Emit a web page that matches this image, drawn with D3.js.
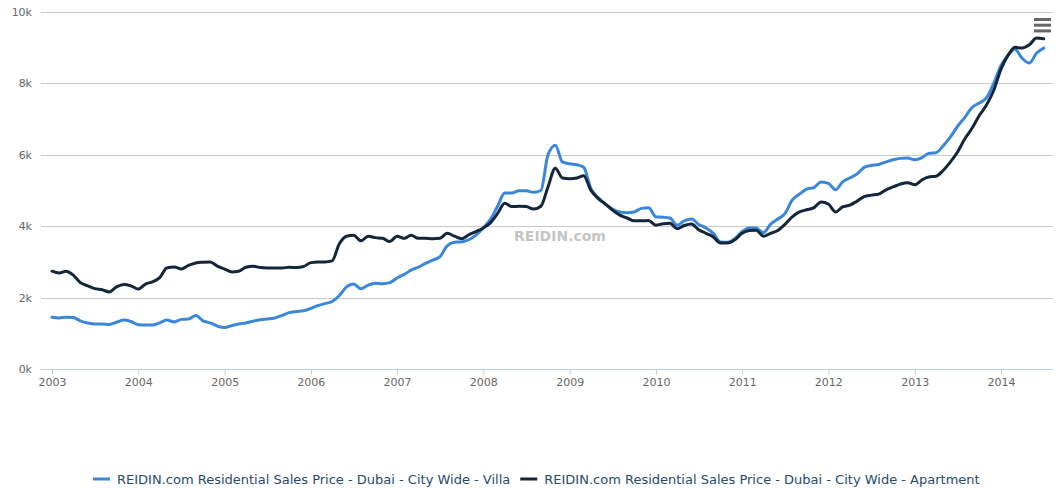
<!DOCTYPE html>
<html>
<head>
<meta charset="utf-8">
<script src="https://cdn.jsdelivr.net/npm/d3@7"></script>
<style>
    body { margin: 0; background: #ffffff; }
    #chart text { font-family: "DejaVu Sans", Verdana, sans-serif; }
</style>
</head>
<body>
<svg id="chart" width="1062" height="489"></svg>
<script>

// Series data (monthly, starting Jan 2003)
const startMonth = "2003-01";

const villaValues = [
    1450, 1430, 1450, 1440, 1350, 1290, 1260, 1260, 1250, 1310, 1370, 1330,
    1240, 1230, 1230, 1290, 1370, 1320, 1390, 1400, 1500, 1350, 1290, 1200,
    1160, 1220, 1260, 1290, 1340, 1380, 1400, 1430, 1500, 1580, 1610, 1630,
    1700, 1780, 1830, 1890, 2050, 2300, 2380, 2250, 2350, 2400, 2390, 2420,
    2550, 2650, 2770, 2850, 2960, 3050, 3140, 3450, 3550, 3560, 3620, 3750,
    3950, 4200, 4550, 4930, 4930, 4990, 4990, 4950, 5000, 6000, 6270, 5800,
    5750, 5720, 5650, 5050, 4800, 4620, 4480, 4400, 4380, 4400, 4500, 4520,
    4260, 4250, 4230, 4030, 4150, 4200, 4050, 3950, 3800, 3560, 3550, 3650,
    3850, 3950, 3950, 3820, 4050, 4200, 4350, 4730, 4900, 5040, 5080, 5240,
    5200, 5020, 5240, 5350, 5460, 5650, 5700, 5730, 5800, 5860, 5900, 5910,
    5860, 5920, 6040, 6060, 6250, 6500, 6800, 7050, 7330, 7450, 7600, 8000,
    8500, 8800, 8960, 8700, 8570, 8850, 8990
];

const apartmentValues = [
    2740, 2690, 2740, 2630, 2420, 2330, 2250, 2220, 2160, 2300, 2370, 2330,
    2240, 2380, 2440, 2560, 2830, 2860, 2800, 2900, 2970, 2990, 3000, 2880,
    2800, 2720, 2740, 2850, 2880, 2840, 2830, 2830, 2830, 2850, 2840, 2870,
    2980, 3000, 3000, 3030, 3500, 3720, 3750, 3590, 3720, 3680, 3660, 3570,
    3720, 3660, 3750, 3660, 3660, 3650, 3660, 3800, 3720, 3650, 3760, 3850,
    3950, 4100, 4350, 4640, 4550, 4560, 4550, 4480, 4560, 5100, 5620, 5350,
    5330, 5350, 5410, 5000, 4780, 4620, 4450, 4310, 4230, 4150, 4150, 4160,
    4030, 4070, 4080, 3930, 4020, 4060, 3900, 3800, 3700, 3530, 3530, 3620,
    3800, 3880, 3890, 3720, 3800, 3880, 4050, 4260, 4400, 4460, 4520, 4680,
    4620, 4400, 4540, 4590, 4700, 4830, 4870, 4900, 5020, 5100, 5180, 5220,
    5160, 5300, 5380, 5400, 5560, 5800, 6080, 6450, 6750, 7100, 7400, 7800,
    8400, 8800, 9010, 8990, 9080, 9270, 9250
];

const seriesNames = [
    "REIDIN.com Residential Sales Price - Dubai - City Wide - Villa",
    "REIDIN.com Residential Sales Price - Dubai - City Wide - Apartment"
];
const seriesColours = ["#3a86da", "#14263a"];

const yTicks = [0, 2000, 4000, 6000, 8000, 10000];
const yTickLabels = ["0k", "2k", "4k", "6k", "8k", "10k"];
const xTickYears = [2003, 2004, 2005, 2006, 2007, 2008, 2009, 2010, 2011, 2012, 2013, 2014];

const watermark = "REIDIN.com";

// Build dated points
const parseMonth = d3.timeParse("%Y-%m");
const start = parseMonth(startMonth);
const toPoints = (values) => values.map((v, i) => ({ date: d3.timeMonth.offset(start, i), value: v }));
const series = [toPoints(villaValues), toPoints(apartmentValues)];

// Plot layout
const plotLeft = 41,
      plotRight = 1053,
      plotTop = 12,
      plotBottom = 369;

const svg = d3.select("#chart");

// Scales
const x = d3.scaleTime()
    .domain([new Date(2003, 0, 1), new Date(2014, 0, 1)])
    .range([52, 1001]);
const y = d3.scaleLinear()
    .domain([0, 10000])
    .range([plotBottom, plotTop]);

// Grid lines
svg.append("g")
    .selectAll("line")
    .data(yTicks.slice(1))
    .enter()
    .append("line")
    .attr("x1", plotLeft)
    .attr("x2", plotRight)
    .attr("y1", (d) => Math.round(y(d)) + 0.5)
    .attr("y2", (d) => Math.round(y(d)) + 0.5)
    .attr("stroke", "#c8c8c8")
    .attr("stroke-width", 1);

// Y labels
svg.append("g")
    .selectAll("text")
    .data(yTicks)
    .enter()
    .append("text")
    .attr("x", 32)
    .attr("y", (d) => y(d) + 4)
    .attr("text-anchor", "end")
    .attr("font-size", 11)
    .attr("fill", "#666666")
    .text((d, i) => yTickLabels[i]);

// X axis
const xAxis = d3.axisBottom(x)
    .tickValues(xTickYears.map((yr) => new Date(yr, 0, 1)))
    .tickFormat(d3.timeFormat("%Y"))
    .tickSizeInner(6)
    .tickSizeOuter(0)
    .tickPadding(3);

const xAxisG = svg.append("g")
    .attr("transform", `translate(0,${plotBottom})`)
    .call(xAxis);
xAxisG.select(".domain").remove();
xAxisG.append("line")
    .attr("x1", plotLeft)
    .attr("x2", plotRight)
    .attr("y1", 0.5)
    .attr("y2", 0.5)
    .attr("stroke", "#c0d0e0");
xAxisG.selectAll(".tick line").attr("stroke", "#c0d0e0");
xAxisG.selectAll(".tick text")
    .attr("fill", "#666666")
    .attr("font-size", 11)
    .style("font-family", "'DejaVu Sans', Verdana, sans-serif");

// Watermark
svg.append("text")
    .attr("x", 560)
    .attr("y", 241)
    .attr("text-anchor", "middle")
    .attr("font-size", 14)
    .attr("font-weight", "bold")
    .attr("fill", "#c4c4c4")
    .text(watermark);

// Lines
const line = d3.line()
    .x((d) => x(d.date))
    .y((d) => y(d.value))
    .curve(d3.curveMonotoneX);

svg.append("g")
    .selectAll("path")
    .data(series)
    .enter()
    .append("path")
    .attr("d", line)
    .attr("fill", "none")
    .attr("stroke", (d, i) => seriesColours[i])
    .attr("stroke-width", 3)
    .attr("stroke-linejoin", "round")
    .attr("stroke-linecap", "round");

// Menu button
svg.append("g")
    .selectAll("line")
    .data([0, 1, 2])
    .enter()
    .append("line")
    .attr("x1", 1034)
    .attr("x2", 1051)
    .attr("y1", (d) => 19.5 + d * 5.7)
    .attr("y2", (d) => 19.5 + d * 5.7)
    .attr("stroke", "#666666")
    .attr("stroke-width", 3);

// Legend
const legend = svg.append("g").attr("transform", "translate(0,479)");
let cursor = 93;
seriesNames.forEach((name, i) => {
    const item = legend.append("g").attr("transform", `translate(${cursor},0)`);
    item.append("line")
        .attr("x1", 0)
        .attr("x2", 17)
        .attr("y1", 0)
        .attr("y2", 0)
        .attr("stroke", seriesColours[i])
        .attr("stroke-width", 3);
    const label = item.append("text")
        .attr("x", 24)
        .attr("y", 5)
        .attr("font-size", 13)
        .attr("fill", "#274b6d")
        .text(name);
    cursor += 24 + label.node().getComputedTextLength() + 10;
});

</script>
</body>
</html>
